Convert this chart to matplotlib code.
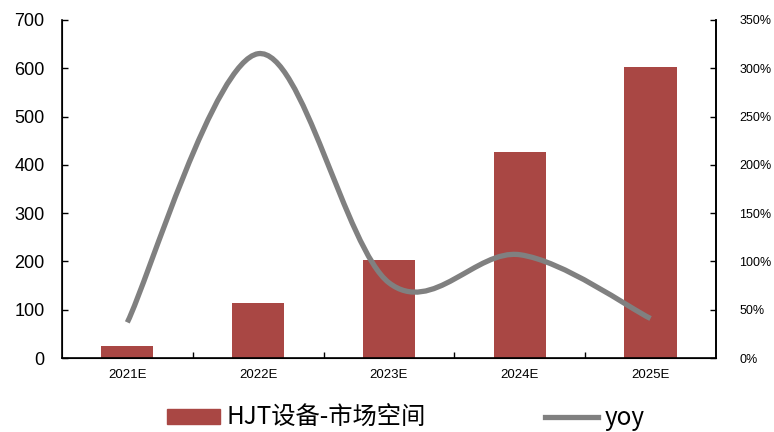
import matplotlib.pyplot as plt
from matplotlib.path import Path
from matplotlib.patches import PathPatch
from matplotlib.lines import Line2D
from matplotlib.patches import Patch

plt.rcParams['font.family'] = ['Liberation Sans', 'Noto Sans CJK SC', 'DejaVu Sans']

# HJT设备市场空间（亿元）及同比增速
years = ['2021E', '2022E', '2023E', '2024E', '2025E']
market = [25, 114, 203, 426, 602]
yoy = [37, 315, 78, 107, 41]

BAR_COLOR = '#A94744'
LINE_COLOR = '#808080'


def smooth_path(xs, ys):
    # 平滑曲线：用三次贝塞尔段连接各点（Catmull-Rom 切线）
    n = len(xs)
    verts = [(xs[0], ys[0])]
    codes = [Path.MOVETO]
    for i in range(n - 1):
        x0, y0 = xs[max(i - 1, 0)], ys[max(i - 1, 0)]
        x1, y1 = xs[i], ys[i]
        x2, y2 = xs[i + 1], ys[i + 1]
        x3, y3 = xs[min(i + 2, n - 1)], ys[min(i + 2, n - 1)]
        c1 = (x1 + (x2 - x0) / 6, y1 + (y2 - y0) / 6)
        c2 = (x2 - (x3 - x1) / 6, y2 - (y3 - y1) / 6)
        verts += [c1, c2, (x2, y2)]
        codes += [Path.CURVE4] * 3
    return Path(verts, codes)


fig = plt.figure(figsize=(7.74, 4.32), dpi=100)
ax = fig.add_axes([0.080, 0.171, 0.845, 0.783])
xpos = list(range(len(years)))

ax.bar(xpos, market, width=0.4, color=BAR_COLOR, zorder=2)
ax.set_xlim(-0.5, len(years) - 0.5)
ax.set_ylim(0, 700)
ax.set_yticks(range(0, 701, 100))
ax.set_xticks(xpos)
ax.set_xticklabels(years, fontsize=9.5)
ax.set_xticks([i + 0.5 for i in xpos[:-1]], minor=True)
ax.tick_params(axis='x', which='major', length=0, pad=8)
ax.tick_params(axis='x', which='minor', direction='in', length=4, width=1)
ax.tick_params(axis='y', direction='in', length=4, width=1, labelsize=13, pad=12.5)
ax.spines['top'].set_visible(False)
for s in ('left', 'right', 'bottom'):
    ax.spines[s].set_linewidth(1.2)

ax2 = ax.twinx()
ax2.set_ylim(0, 350)
ax2.set_yticks(range(0, 351, 50))
ax2.set_yticklabels([f'{v}%' for v in range(0, 351, 50)])
ax2.tick_params(axis='y', direction='in', length=4, width=1, labelsize=9, pad=17)
ax2.spines['top'].set_visible(False)
ax2.spines['right'].set_linewidth(1.2)
ax2.add_patch(PathPatch(smooth_path(xpos, yoy), fill=False, edgecolor=LINE_COLOR,
                        lw=3.8, capstyle='butt', zorder=3))

handles = [Patch(color=BAR_COLOR), Line2D([], [], color=LINE_COLOR, lw=3.8)]
fig.legend(handles, ['HJT设备-市场空间', 'yoy'], loc='center', bbox_to_anchor=(0.524, 0.032),
           ncol=2, frameon=False, handlelength=2.2, handleheight=0.55,
           columnspacing=4.9, handletextpad=0.25,
           prop={'family': ['Noto Sans CJK SC', 'DejaVu Sans'], 'size': 17.5})

fig.savefig('out.png', dpi=100)
